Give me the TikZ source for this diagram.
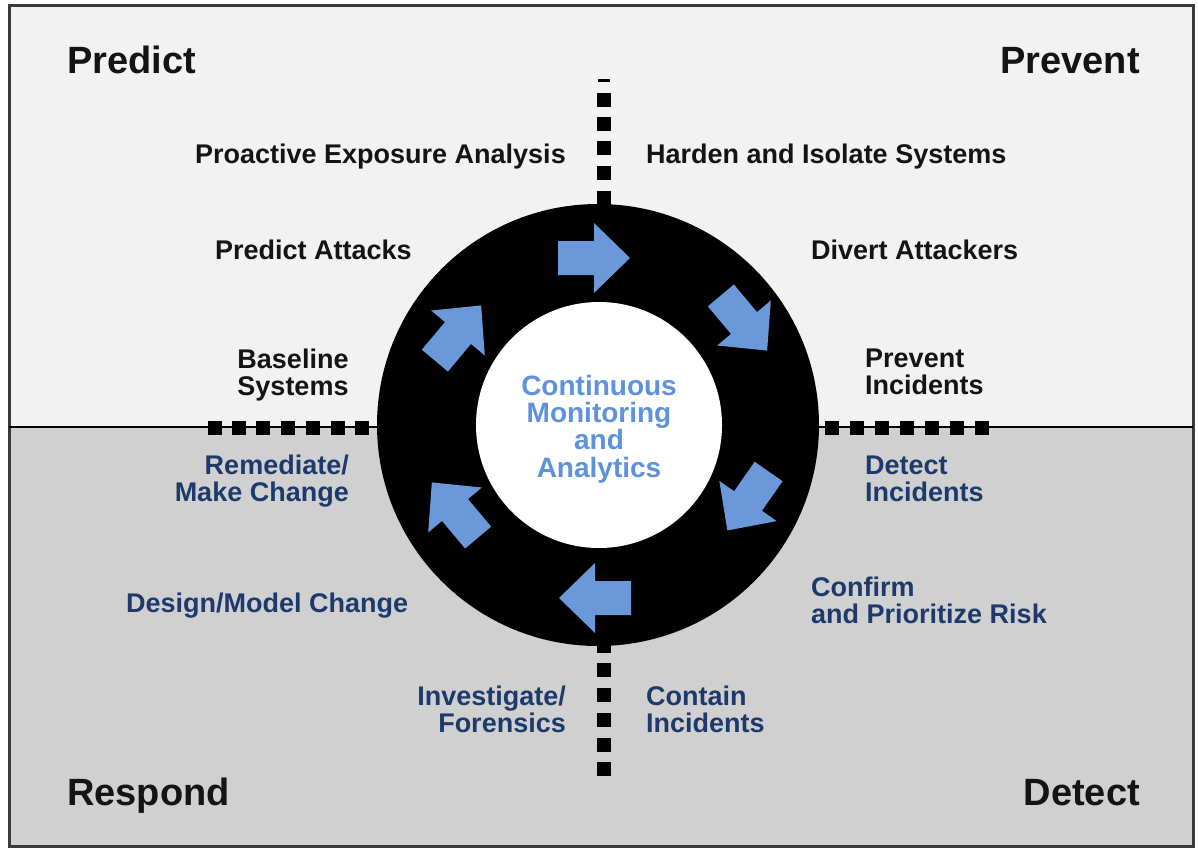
\documentclass[tikz,border=0pt]{standalone}
\usepackage{fontspec}
\setmainfont{Liberation Sans}
\definecolor{topbg}{HTML}{F2F2F2}
\definecolor{botbg}{HTML}{D0D0D0}
\definecolor{framec}{HTML}{3A3A3A}
\definecolor{arrowfill}{HTML}{6A98D8}
\definecolor{hubtext}{HTML}{5E92DC}
\definecolor{navy}{HTML}{1E3A6C}
\definecolor{topink}{HTML}{141414}
\tikzset{
  lbl/.style={inner sep=0pt, font=\fontsize{27}{26.5}\selectfont\bfseries, text=topink},
  navylbl/.style={lbl, text=navy},
  corner/.style={inner sep=0pt, font=\fontsize{38}{40}\selectfont\bfseries, text=topink},
  sq/.style={fill=black},
  blockarrow/.pic={\fill[arrowfill] (-36,-17) -- (0,-17) -- (0,-35) -- (36,0) -- (0,35) -- (0,17) -- (-36,17) -- cycle;}
}
\begin{document}
\begin{tikzpicture}[x=1pt,y=-1pt]
\useasboundingbox (0,0) rectangle (1198,848);
% backgrounds
\fill[white] (0,0) rectangle (1198,848);
\fill[topbg] (9,6) rectangle (1193,427);
\fill[botbg] (9,427) rectangle (1193,846);
\draw[framec, line width=3pt] (9,6) rectangle (1193,846);
\draw[black, line width=2pt] (9,427) -- (1193,427);
% dotted separators
\foreach \x in {215,239,263,288,313,338,362,832,857,882,907,932,957,982}
  \fill[sq] (\x-7,421) rectangle (\x+7,435);
\foreach \y in {100,124,148,173,198,646,670,695,720,745,769}
  \fill[sq] (597,\y-7) rectangle (611,\y+7);
\fill[sq] (598,79) rectangle (610,82);
% ring
\node[circle, fill=black, minimum size=442pt, inner sep=0pt] (ring) at (598,425) {};
\node[circle, fill=white, minimum size=246pt, inner sep=0pt] (hub) at (599,425) {};
\node[inner sep=0pt, align=center, font=\fontsize{28}{27.3}\selectfont\bfseries, text=hubtext]
      (hubtxt) at ([yshift=-4pt]hub.center) {Continuous\\Monitoring\\and\\Analytics};
% arrows
\pic at (594,258) {blockarrow};
\pic[rotate=-50] at (744,323) {blockarrow};
\pic[rotate=-125] at (748,501) {blockarrow};
\pic[rotate=180] at (595,598) {blockarrow};
\pic[rotate=130] at (455,510) {blockarrow};
\pic[rotate=50] at (458,333) {blockarrow};
% corner titles
\node[corner, anchor=base west] (predict) at (67,74) {Predict};
\node[corner, anchor=base east] (prevent) at (1140,74) {Prevent};
\node[corner, anchor=base west] (respond) at (67,805) {Respond};
\node[corner, anchor=base east] (detect) at (1140,805) {Detect};
% top labels
\node[lbl, anchor=base east] (pea) at (566,163) {Proactive Exposure Analysis};
\node[lbl, anchor=base west] (his) at (646,163) {Harden and Isolate Systems};
\node[lbl, anchor=base west] (pa) at (215,259) {Predict Attacks};
\node[lbl, anchor=base west] (da) at (811,259) {Divert Attackers};
\node[lbl, anchor=base, align=center] (bs) at (293,395) {Baseline\\Systems};
\node[lbl, anchor=base west, align=left] (pi) at (865,394) {Prevent\\Incidents};
% bottom labels
\node[navylbl, anchor=base east, align=right] (rm) at (349,501) {Remediate/\\Make Change};
\node[navylbl, anchor=base west, align=left] (di) at (865,501) {Detect\\Incidents};
\node[navylbl, anchor=base west] (dm) at (126,612) {Design/Model Change};
\node[navylbl, anchor=base west, align=left] (cp) at (811,623) {Confirm\\and Prioritize Risk};
\node[navylbl, anchor=base east, align=right] (inv) at (566,732) {Investigate/\\Forensics};
\node[navylbl, anchor=base west, align=left] (ci) at (646,732) {Contain\\Incidents};
\end{tikzpicture}
\end{document}
